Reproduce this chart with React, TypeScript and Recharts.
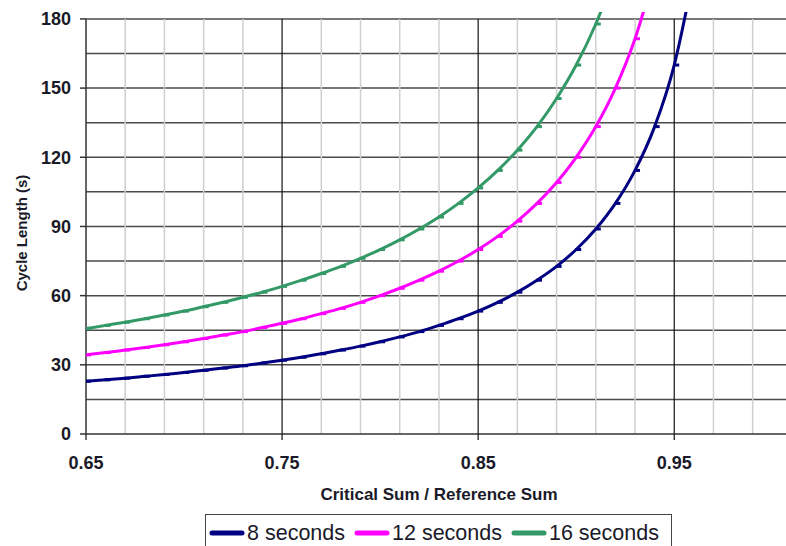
import React from "react";
import { LineChart, Line, XAxis, YAxis, ReferenceLine, Legend } from "recharts";

const ratios = [0.65, 0.66, 0.67, 0.68, 0.69, 0.7, 0.71, 0.72, 0.73, 0.74, 0.75, 0.76, 0.77, 0.78, 0.79, 0.8, 0.81, 0.82, 0.83, 0.84, 0.85, 0.86, 0.87, 0.88, 0.89, 0.9, 0.91, 0.92, 0.93, 0.94, 0.95, 0.96];
const sec8 = [22.9, 23.5, 24.2, 25.0, 25.8, 26.7, 27.6, 28.6, 29.6, 30.8, 32.0, 33.3, 34.8, 36.4, 38.1, 40.0, 42.1, 44.4, 47.1, 50.0, 53.3, 57.1, 61.5, 66.7, 72.7, 80.0, 88.9, 100.0, 114.3, 133.3, 160.0, 200.0];
const sec12 = [34.3, 35.3, 36.4, 37.5, 38.7, 40.0, 41.4, 42.9, 44.4, 46.2, 48.0, 50.0, 52.2, 54.5, 57.1, 60.0, 63.2, 66.7, 70.6, 75.0, 80.0, 85.7, 92.3, 100.0, 109.1, 120.0, 133.3, 150.0, 171.4, 200.0];
const sec16 = [45.7, 47.1, 48.5, 50.0, 51.6, 53.3, 55.2, 57.1, 59.3, 61.5, 64.0, 66.7, 69.6, 72.7, 76.2, 80.0, 84.2, 88.9, 94.1, 100.0, 106.7, 114.3, 123.1, 133.3, 145.5, 160.0, 177.8, 200.0];

const xTicks = [0.65, 0.75, 0.85, 0.95];
const yTicks = [0, 30, 60, 90, 120, 150, 180];
const hGrid = [15, 30, 45, 60, 75, 90, 105, 120, 135, 150, 165, 180];
const vGridLight = [0.67, 0.69, 0.71, 0.73, 0.77, 0.79, 0.81, 0.83, 0.87, 0.89, 0.91, 0.93, 0.97, 0.99];
const vGridDark = [0.75, 0.85, 0.95];

const seriesNames = ["8 seconds", "12 seconds", "16 seconds"];
const seriesColors = ["#000080", "#FF00FF", "#339966"];
const seriesKeys = ["s8", "s12", "s16"];

const data = ratios.map((r, i) => ({
  x: r,
  s8: sec8[i],
  s12: sec12[i],
  s16: sec16[i],
}));

const FONT = "'Liberation Sans', Arial, sans-serif";
const TEXT = "#1a1a28";

const makeDot = (color: string) => (props: any) => {
  const { cx, cy, index } = props;
  if (cx == null || cy == null || isNaN(cx) || isNaN(cy)) return <g key={`d${index}`} />;
  return <rect key={`d${index}`} x={cx - 1} y={cy - 1.5} width={6} height={3} fill={color} />;
};

const LegendContent = () => (
  <div
    style={{
      border: "1.5px solid #444",
      display: "flex",
      alignItems: "center",
      height: 36,
      padding: "2px 4px 0 3px",
      boxSizing: "border-box",
      fontFamily: FONT,
      fontSize: 21.5,
      color: TEXT,
      background: "#fff",
      whiteSpace: "nowrap",
    }}
  >
    {seriesNames.map((n, i) => (
      <div key={n} style={{ display: "flex", alignItems: "center", marginRight: i < 2 ? 9 : 0 }}>
        <svg width={36} height={10} style={{ marginRight: 2 }}>
          <line x1={3} y1={5} x2={33} y2={5} stroke={seriesColors[i]} strokeWidth={5} strokeLinecap="round" />
        </svg>
        <span>{n}</span>
      </div>
    ))}
  </div>
);

export default function App() {
  return (
    <div style={{ position: "absolute", left: 0, top: 0, width: 786, height: 546, background: "#fff" }}>
      <LineChart width={786} height={546} data={data} margin={{ top: 12, right: 0, bottom: 0, left: 0 }}>
        {hGrid.map((v) => (
          <ReferenceLine key={`h${v}`} y={v} stroke="#4a4a4a" strokeWidth={1.5} ifOverflow="hidden" />
        ))}
        {vGridLight.map((v) => (
          <ReferenceLine
            key={`vl${v}`}
            segment={[{ x: v, y: 0 }, { x: v, y: 180 }]}
            stroke="#cfcfcf"
            strokeWidth={1.5}
          />
        ))}
        {vGridDark.map((v) => (
          <ReferenceLine
            key={`vd${v}`}
            segment={[{ x: v, y: 0 }, { x: v, y: 180 }]}
            stroke="#111"
            strokeWidth={1.2}
          />
        ))}
        <ReferenceLine segment={[{ x: 0.65, y: 0 }, { x: 0.65, y: 180 }]} stroke="#333" strokeWidth={1.5} />
        <XAxis
          dataKey="x"
          type="number"
          domain={[0.65, 1.007]}
          allowDataOverflow
          ticks={xTicks}
          tickFormatter={(v: number) => v.toFixed(2)}
          height={112}
          tickSize={6}
          tickMargin={16}
          axisLine={{ stroke: "#333", strokeWidth: 1.5 }}
          tickLine={{ stroke: "#111", strokeWidth: 1.2 }}
          tick={{ fontFamily: FONT, fontSize: 18, fontWeight: 700, fill: TEXT }}
          label={{
            content: (p: any) => {
              const vb = p.viewBox || {};
              return (
                <text
                  x={vb.x + vb.width / 2 + 3}
                  y={vb.y + 66}
                  textAnchor="middle"
                  fontFamily={FONT}
                  fontSize={17}
                  fontWeight={700}
                  fill={TEXT}
                >
                  Critical Sum / Reference Sum
                </text>
              );
            },
          }}
        />
        <YAxis
          type="number"
          domain={[0, 183]}
          allowDataOverflow
          ticks={yTicks}
          width={86}
          tickSize={6}
          tickMargin={9}
          axisLine={false}
          tickLine={{ stroke: "#333", strokeWidth: 1.5 }}
          tick={{ fontFamily: FONT, fontSize: 18, fontWeight: 700, fill: TEXT }}
          label={{
            content: () => (
              <text
                x={21}
                y={233}
                transform="rotate(-90 21 233)"
                textAnchor="middle"
                dominantBaseline="central"
                fontFamily={FONT}
                fontSize={15}
                fontWeight={700}
                fill={TEXT}
              >
                Cycle Length (s)
              </text>
            ),
          }}
        />
        {seriesKeys.map((k, i) => (
          <Line
            key={k}
            dataKey={k}
            name={seriesNames[i]}
            type="monotone"
            stroke={seriesColors[i]}
            strokeWidth={3}
            dot={makeDot(seriesColors[i])}
            activeDot={false}
            isAnimationActive={false}
            connectNulls={false}
          />
        ))}
        <Legend
          layout="horizontal"
          verticalAlign="middle"
          align="center"
          content={<LegendContent />}
          wrapperStyle={{ left: 205, top: 514, width: 467, height: 36 }}
        />
      </LineChart>
    </div>
  );
}
